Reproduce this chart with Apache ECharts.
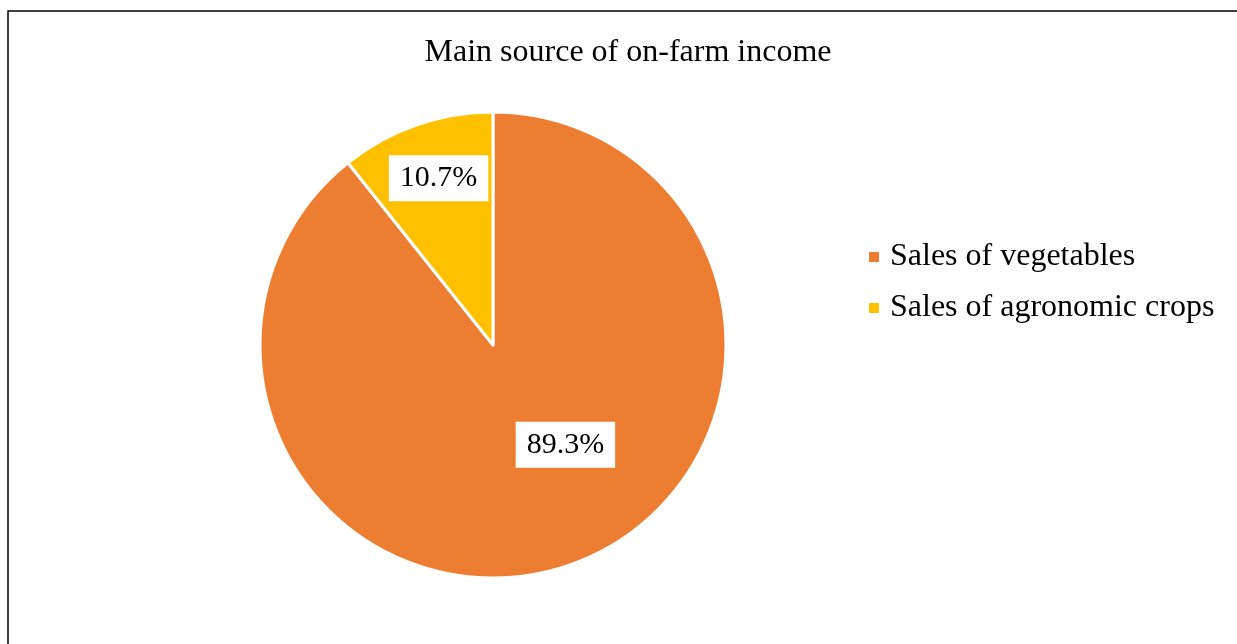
<!DOCTYPE html>
<html>
<head>
<meta charset="utf-8">
<style>
  html, body { margin: 0; padding: 0; background: #fff; }
  #chart { width: 1237px; height: 644px; }
</style>
<script src="https://cdn.jsdelivr.net/npm/echarts@6/dist/echarts.min.js"></script>
</head>
<body>
<div id="chart"></div>
<script>
// Income source shares (percent)
const categories = ['Sales of vegetables', 'Sales of agronomic crops'];
const shares = [89.3, 10.7];
const colors = ['#ED7D31', '#FFC000'];
// Nudges that move each inside label to where it sits best in its slice
const labelOffsets = [[33, -13], [-15, -54]];

const serif = '"Liberation Serif", "Times New Roman", serif';

const chart = echarts.init(document.getElementById('chart'), null, { renderer: 'canvas' });

chart.setOption({
  backgroundColor: '#ffffff',
  animation: false,
  title: {
    text: 'Main source of on-farm income',
    left: 628,
    textAlign: 'center',
    top: 37,
    padding: 0,
    textStyle: { fontFamily: serif, fontSize: 32, fontWeight: 'normal', color: '#000' }
  },
  legend: {
    orient: 'vertical',
    left: 867,
    top: 241,
    padding: 0,
    itemWidth: 12,
    itemHeight: 12,
    itemGap: 19,
    icon: 'rect',
    textStyle: { fontFamily: serif, fontSize: 32, color: '#000', padding: [0, 0, 0, 5] },
    data: categories
  },
  graphic: [{
    type: 'rect',
    shape: { x: 8, y: 11, width: 1240, height: 700 },
    style: { fill: 'none', stroke: '#000', lineWidth: 1.5 },
    silent: true
  }],
  series: [{
    type: 'pie',
    center: [493, 345],
    radius: 233,
    startAngle: 90,
    clockwise: true,
    itemStyle: { borderColor: '#fff', borderWidth: 3 },
    label: {
      show: true,
      position: 'inside',
      fontFamily: serif,
      fontSize: 30,
      color: '#000',
      backgroundColor: '#fff',
      padding: [9, 11, 7, 11],
      formatter: p => p.value.toFixed(1) + '%'
    },
    labelLine: { show: false },
    emphasis: { disabled: true },
    data: categories.map((name, i) => ({
      name: name,
      value: shares[i],
      itemStyle: { color: colors[i] },
      label: { offset: labelOffsets[i] }
    }))
  }]
});
</script>
</body>
</html>
